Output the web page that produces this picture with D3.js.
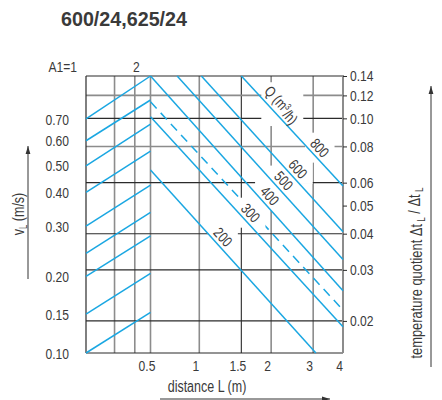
<!DOCTYPE html>
<html>
<head>
<meta charset="utf-8">
<script src="https://cdn.jsdelivr.net/npm/d3@7"></script>
<style>
  html, body { margin: 0; padding: 0; background: #fff; }
  svg { display: block; }
  text { font-family: "Liberation Sans", Arial, sans-serif; fill: #3a3a3a; }
</style>
</head>
<body>
<svg id="chart" width="442" height="400"></svg>
<script>
// ---- A1 correction panel (left part of the nomogram) ----
const a1Ticks = [1, 2];
const a1Grid = [1.5, 2];
const a1Max = 2.5;

// Room air velocity v_L (m/s); each line is given by its quotient level at A1 = 1 and at A1 = 2.5
const vL = [0.10, 0.15, 0.20, 0.25, 0.30, 0.40, 0.50, 0.60, 0.70];
const vLLabelled = [0.10, 0.15, 0.20, 0.30, 0.40, 0.50, 0.60, 0.70];
const vLQuotientStart = [0.0155, 0.0211, 0.0285, 0.0342, 0.0425, 0.0555, 0.0686, 0.0837, 0.0995];
const vLQuotientEnd = [0.0214, 0.0292, 0.0393, 0.0474, 0.0588, 0.0771, 0.0956, 0.1157, 0.14];

// ---- Distance panel: air flow Q (m3/h) lines ----
const flowQ = [200, 300, 400, 500, 600, 800];
const flowStartL = [0.5, 0.5, 0.5, 0.73, 1.02, 1.5];
const flowStartQuotient = [0.0663, 0.1013, 0.14, 0.14, 0.14, 0.14];
const flowEndL = [3.08, 4, 4, 4, 4, 4];
const flowEndQuotient = [0.0155, 0.0191, 0.0254, 0.0326, 0.0406, 0.0584];

// Second unit size, drawn dashed
const dashedStartL = 0.5, dashedStartQuotient = 0.114;
const dashedEndL = 4, dashedEndQuotient = 0.0218;

// ---- Axes ----
const distanceTicks = [0.5, 1, 1.5, 2, 3, 4];
const distanceGrid = [0.5, 1, 1.5, 2, 3];
const quotientTicks = [0.14, 0.12, 0.10, 0.08, 0.06, 0.05, 0.04, 0.03, 0.02];
const quotientGrid = [0.12, 0.10, 0.08, 0.06, 0.04, 0.03, 0.02];
const quotientMin = 0.0155, quotientMax = 0.14;

// ---- Layout ----
const plot = { left: 86, right: 343, top: 76, bottom: 353 };
const split = 150.5;      // where the A1 panel meets the distance panel
const oneMetre = 199.3;   // position of L = 1 m
const blue = "#1aa7e2";
const dark = "#2b2b2b";
const grey = "#8c8c8c";
const fontSize = 15.5;
const narrowFactor = 0.78;  // condensed look for all lettering

// Where along each Q line its label sits (distance value) and the sheet-wide unit label
const flowLabelAt = { 200: 1.18, 300: 1.54, 400: 1.85, 500: 2.12, 600: 2.43, 800: 3.0 };
const unitLabelAt = 2.06;

const svg = d3.select("#chart");

// squeeze text horizontally to imitate a condensed face
function condense(sel, factor = narrowFactor) {
  sel.each(function () {
    const len = this.getComputedTextLength();
    this.setAttribute("textLength", (len * factor).toFixed(2));
    this.setAttribute("lengthAdjust", "spacingAndGlyphs");
  });
  return sel;
}

const xA = d3.scaleLog().domain([1, a1Max]).range([plot.left, split]);
const xL = d3.scaleLog().domain([0.5, 1, 4]).range([split, oneMetre, plot.right]);
const y = d3.scaleLog().domain([quotientMin, quotientMax]).range([plot.bottom, plot.top]);

const defs = svg.append("defs");
defs.append("marker")
  .attr("id", "arrowhead")
  .attr("viewBox", "0 0 10 10")
  .attr("refX", 10).attr("refY", 5)
  .attr("markerWidth", 8).attr("markerHeight", 8)
  .attr("markerUnits", "userSpaceOnUse")
  .attr("orient", "auto")
  .append("path").attr("d", "M0,2 L10,5 L0,8 Z").attr("fill", "#333");

const gridLayer = svg.append("g");
const underLayer = svg.append("g");
const maskLayer = svg.append("g");
const lineLayer = svg.append("g");
const textLayer = svg.append("g");

// ---- Grid ----
const vGrid = [
  ...a1Grid.map(a => ({ x: xA(a), c: grey, w: 1.6 })),
  ...distanceGrid.map(d => ({ x: xL(d), c: d === 1.5 ? dark : grey, w: d === 1.5 ? 1.1 : 1.6 }))
];
gridLayer.selectAll("line.v").data(vGrid).join("line")
  .attr("x1", d => d.x).attr("x2", d => d.x)
  .attr("y1", plot.top).attr("y2", plot.bottom)
  .attr("stroke", d => d.c).attr("stroke-width", d => d.w);

const hGrid = quotientGrid.map(q => ({ y: y(q), c: (q === 0.12 || q === 0.08) ? grey : dark, w: (q === 0.12 || q === 0.08) ? 1.6 : 1.1 }));
gridLayer.selectAll("line.h").data(hGrid).join("line")
  .attr("x1", plot.left).attr("x2", plot.right)
  .attr("y1", d => d.y).attr("y2", d => d.y)
  .attr("stroke", d => d.c).attr("stroke-width", d => d.w);

// frame
gridLayer.append("line").attr("x1", plot.left).attr("x2", plot.left).attr("y1", plot.top).attr("y2", plot.bottom).attr("stroke", dark).attr("stroke-width", 1.2);
gridLayer.append("line").attr("x1", plot.left).attr("x2", plot.right + 1).attr("y1", plot.top).attr("y2", plot.top).attr("stroke", dark).attr("stroke-width", 1.1);
gridLayer.append("line").attr("x1", plot.left).attr("x2", plot.right).attr("y1", plot.bottom).attr("y2", plot.bottom).attr("stroke", dark).attr("stroke-width", 1.2);
gridLayer.append("line").attr("x1", plot.right).attr("x2", plot.right).attr("y1", plot.top).attr("y2", plot.bottom).attr("stroke", grey).attr("stroke-width", 2);

// ---- Right axis: temperature quotient ----
const rightAxis = d3.axisRight(y)
  .tickValues(quotientTicks)
  .tickSize(4)
  .tickPadding(3)
  .tickFormat(d3.format(".2f"));
const ra = svg.append("g").attr("transform", `translate(${plot.right},0)`).call(rightAxis);
ra.select(".domain").remove();
ra.selectAll(".tick line").attr("stroke", dark).attr("stroke-width", 1);
condense(ra.selectAll(".tick text")
  .attr("font-size", fontSize)
  .attr("font-family", null)
  .attr("fill", "#3a3a3a"));

// ---- Bottom axis: distance ----
condense(textLayer.selectAll("text.dist").data(distanceTicks).join("text")
  .attr("x", d => xL(d) - 3.5)
  .attr("y", 370.5)
  .attr("text-anchor", "middle")
  .attr("font-size", fontSize)
  .text(d => d3.format("")(d)));

// ---- Left axis: v_L labels at each line's start ----
condense(textLayer.selectAll("text.vl").data(vLLabelled).join("text")
  .attr("x", 69)
  .attr("y", d => y(vLQuotientStart[vL.indexOf(d)]))
  .attr("dy", "0.36em")
  .attr("text-anchor", "end")
  .attr("font-size", fontSize)
  .text(d => d3.format(".2f")(d)));

// ---- A1 labels ----
condense(textLayer.append("text")
  .attr("x", xA(a1Ticks[0]) - 9).attr("y", 71.5)
  .attr("text-anchor", "end").attr("font-size", fontSize)
  .text("A1=" + a1Ticks[0]));
condense(textLayer.append("text")
  .attr("x", xA(a1Ticks[1]) + 1.5).attr("y", 71.5)
  .attr("text-anchor", "middle").attr("font-size", fontSize)
  .text(a1Ticks[1]));

// ---- v_L lines (A1 panel) ----
lineLayer.selectAll("line.vl").data(vL).join("line")
  .attr("x1", xA(1)).attr("x2", xA(a1Max))
  .attr("y1", (d, i) => y(vLQuotientStart[i]))
  .attr("y2", (d, i) => y(vLQuotientEnd[i]))
  .attr("stroke", blue).attr("stroke-width", 1.5);

// ---- Q lines (distance panel) ----
const flowLines = flowQ.map((q, i) => ({
  q,
  x0: xL(flowStartL[i]), y0: y(flowStartQuotient[i]),
  x1: xL(flowEndL[i]), y1: y(flowEndQuotient[i])
}));
lineLayer.selectAll("line.q").data(flowLines).join("line")
  .attr("x1", d => d.x0).attr("y1", d => d.y0)
  .attr("x2", d => d.x1).attr("y2", d => d.y1)
  .attr("stroke", blue).attr("stroke-width", 1.5);

// dashed line sits under the label knock-outs
underLayer.append("line")
  .attr("x1", xL(dashedStartL)).attr("y1", y(dashedStartQuotient))
  .attr("x2", xL(dashedEndL)).attr("y2", y(dashedEndQuotient))
  .attr("stroke", blue).attr("stroke-width", 1.5)
  .attr("stroke-dasharray", "9,6");

// ---- Labels along the Q lines, with white knock-outs behind them ----
function placeOnLine(line, L, offset) {
  const px = xL(L);
  const py = line.y0 + (px - line.x0) * (line.y1 - line.y0) / (line.x1 - line.x0);
  const ang = Math.atan2(line.y1 - line.y0, line.x1 - line.x0);
  return { cx: px + Math.sin(ang) * offset, cy: py - Math.cos(ang) * offset, ang };
}

function rotatedLabel(content, pos, size, pad) {
  const t = textLayer.append("text")
    .attr("transform", `translate(${pos.cx},${pos.cy}) rotate(${pos.ang * 180 / Math.PI})`)
    .attr("text-anchor", "middle")
    .attr("dy", "0.36em")
    .attr("font-size", size);
  content(t);
  condense(t);
  const len = +t.attr("textLength");
  const h = size * 0.75;
  const c = Math.abs(Math.cos(pos.ang)), s = Math.abs(Math.sin(pos.ang));
  const hw = len / 2 * c + h / 2 * s + pad;
  const hh = len / 2 * s + h / 2 * c + pad;
  maskLayer.append("rect")
    .attr("x", pos.cx - hw).attr("y", pos.cy - hh)
    .attr("width", 2 * hw).attr("height", 2 * hh)
    .attr("fill", "#fff");
}

flowLines.forEach(line => {
  const pos = placeOnLine(line, flowLabelAt[line.q], 9);
  rotatedLabel(t => t.text(line.q), pos, 15, 4);
});

const line800 = flowLines.find(d => d.q === 800);
rotatedLabel(t => {
  t.append("tspan").text("Q (m");
  t.append("tspan").attr("font-size", 9.5).attr("dy", "-0.5em").text("3");
  t.append("tspan").attr("dy", "0.5em").text("/h)");
}, placeOnLine(line800, unitLabelAt, 11), 15, 2);

// ---- Axis titles with arrows ----
const leftTitle = textLayer.append("text")
  .attr("transform", "translate(18,214) rotate(-90)")
  .attr("text-anchor", "middle")
  .attr("dy", "0.36em")
  .attr("font-size", 16);
leftTitle.append("tspan").text("v");
leftTitle.append("tspan").attr("font-size", 10).attr("dy", "0.35em").text("L");
leftTitle.append("tspan").attr("dy", "-0.2em").text(" (m/s)");
condense(leftTitle);

svg.append("line").attr("x1", 28).attr("x2", 28).attr("y1", 279).attr("y2", 146)
  .attr("stroke", "#333").attr("stroke-width", 1).attr("marker-end", "url(#arrowhead)");

condense(textLayer.append("text")
  .attr("x", 207).attr("y", 392)
  .attr("text-anchor", "middle")
  .attr("font-size", 16)
  .text("distance L (m)"));
svg.append("line").attr("x1", 160).attr("x2", 330).attr("y1", 399).attr("y2", 399)
  .attr("stroke", "#333").attr("stroke-width", 1).attr("marker-end", "url(#arrowhead)");

const rightTitle = textLayer.append("text")
  .attr("transform", "translate(416,273) rotate(-90)")
  .attr("text-anchor", "middle")
  .attr("dy", "0.36em")
  .attr("font-size", 16.5);
rightTitle.append("tspan").text("temperature quotient  Δt");
rightTitle.append("tspan").attr("font-size", 10.5).attr("dy", "0.3em").text(" L");
rightTitle.append("tspan").attr("dy", "-0.3em").text(" / Δt");
rightTitle.append("tspan").attr("font-size", 10.5).attr("dy", "0.3em").text(" L");
condense(rightTitle);
svg.append("line").attr("x1", 431).attr("x2", 431).attr("y1", 367).attr("y2", 86)
  .attr("stroke", "#333").attr("stroke-width", 1).attr("marker-end", "url(#arrowhead)");

// ---- Title ----
textLayer.append("text")
  .attr("x", 61).attr("y", 26)
  .attr("font-size", 20)
  .attr("font-weight", "bold")
  .attr("fill", "#222")
  .attr("textLength", 126)
  .attr("lengthAdjust", "spacingAndGlyphs")
  .text("600/24,625/24");
</script>
</body>
</html>
